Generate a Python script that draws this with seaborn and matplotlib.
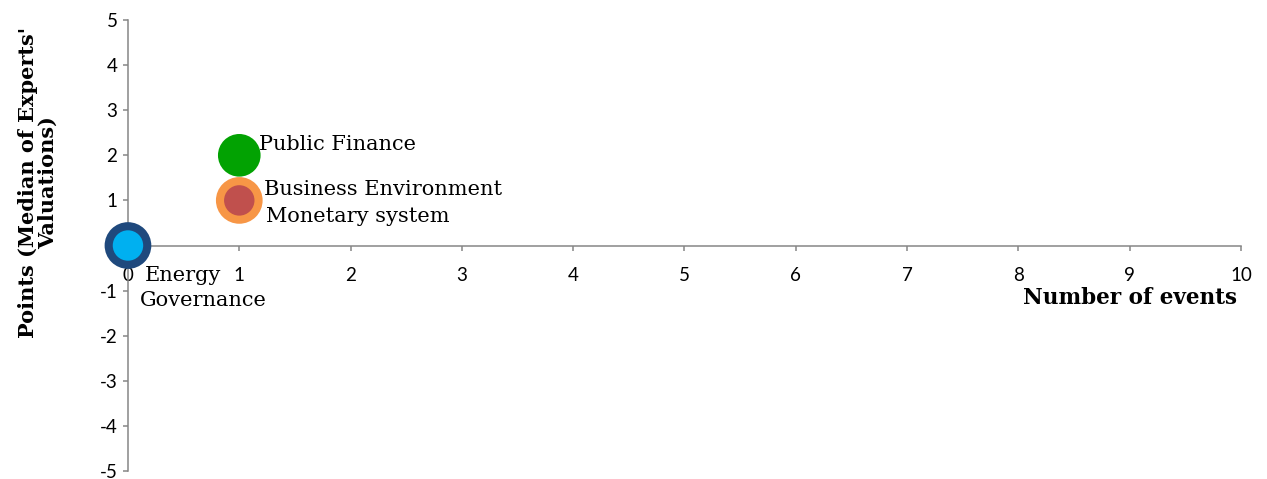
"""Bubble chart: points vs number of events."""
import pandas as pd
import seaborn as sns
from matplotlib import pyplot as plt

# Data
series = ['Public Finance', 'Business Environment', 'Monetary system', 'Energy', 'Governance']
events = [1, 1, 1, 0, 0]
points = [2, 1, 1, 0, 0]
weight = [1.96, 2.35, 1, 2.35, 1]

df = pd.DataFrame({'series': series, 'events': events, 'points': points, 'weight': weight})

colors = {
    'Public Finance': '#02A202',
    'Business Environment': '#F79646',
    'Monetary system': '#C0504D',
    'Energy': '#1F497D',
    'Governance': '#00B0F0',
}

sns.set_style('white')
plt.rcParams['font.family'] = ['Lato', 'DejaVu Sans']
plt.rcParams['axes.unicode_minus'] = False
plt.rcParams['text.color'] = 'black'
plt.rcParams['axes.labelcolor'] = 'black'

fig = plt.figure(figsize=(12.67, 4.79), dpi=100)
ax = fig.add_axes([0.101, 0.0167, 0.8785, 0.9415])

sns.scatterplot(
    df, x='events', y='points', hue='series', palette=colors,
    size='weight', sizes=(480, 1130), size_norm=(1, 2.35),
    linewidth=0, alpha=1, legend=False, ax=ax, zorder=3, clip_on=False
)

# Labels next to the bubbles (offsets in points)
offsets = {
    'Public Finance': (14, 8),
    'Business Environment': (18, 8),
    'Monetary system': (19.5, -11.5),
    'Energy': (12, -21.5),
    'Governance': (8.5, -39.5),
}
for _, row in df.iterrows():
    ax.annotate(row['series'], (row['events'], row['points']),
                xytext=offsets[row['series']], textcoords='offset points',
                ha='left', va='center', fontsize=15, family='DejaVu Serif',
                color='black', zorder=4)

ax.set_xlim(0, 10)
ax.set_ylim(-5, 5)
ax.set_xticks(range(0, 11))
ax.set_yticks(range(-5, 6))

ax.spines['bottom'].set_position(('data', 0))
ax.spines['top'].set_visible(False)
ax.spines['right'].set_visible(False)
for s in ['left', 'bottom']:
    ax.spines[s].set_color('#868686')
    ax.spines[s].set_linewidth(1.1)

ax.tick_params(axis='both', which='major', direction='out', length=3.6, width=1.1,
               color='#868686', labelsize=13.5, labelcolor='black',
               bottom=True, left=True)
ax.tick_params(axis='x', pad=12)
ax.tick_params(axis='y', pad=4)

ax.set_xlabel('Number of events', family='DejaVu Serif', fontweight='bold',
              fontsize=15.5, color='black')
ax.xaxis.set_label_coords(0.996, 0.384)
ax.xaxis.label.set_ha('right')
ax.xaxis.label.set_va('center')

ax.set_ylabel("Points (Median of Experts'\nValuations)", family='DejaVu Serif',
              fontweight='bold', fontsize=15, linespacing=0.95, color='black')
ax.yaxis.set_label_coords(-0.081, 0.64)
ax.yaxis.label.set_va('center')
ax.yaxis.label.set_ha('center')

plt.savefig('out.png', dpi=100)
